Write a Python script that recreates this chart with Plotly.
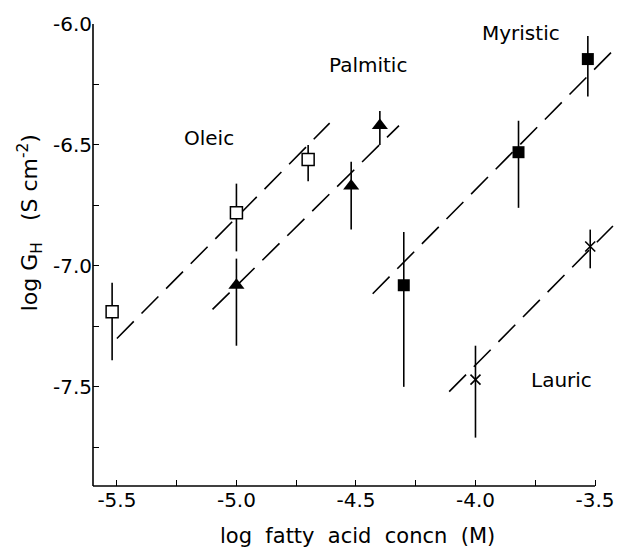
import numpy as np
import plotly.graph_objects as go

# ---------------- data ----------------
oleic_x = [-5.52, -5.00, -4.70]
oleic_y = [-7.19, -6.78, -6.56]
oleic_hi = [-7.07, -6.66, -6.50]
oleic_lo = [-7.39, -6.94, -6.65]
oleic_fit_x = [-5.50, -4.61]
oleic_fit_y = [-7.30, -6.41]

palm_x = [-5.00, -4.52, -4.40]
palm_y = [-7.08, -6.67, -6.42]
palm_hi = [-6.97, -6.57, -6.36]
palm_lo = [-7.33, -6.85, -6.50]
palm_fit_x = [-5.10, -4.32]
palm_fit_y = [-7.18, -6.42]

myr_x = [-4.30, -3.82, -3.53]
myr_y = [-7.08, -6.53, -6.145]
myr_hi = [-6.86, -6.40, -6.05]
myr_lo = [-7.50, -6.76, -6.30]
myr_fit_x = [-4.43, -3.41]
myr_fit_y = [-7.115, -6.095]

lau_x = [-4.00, -3.52]
lau_y = [-7.47, -6.92]
lau_hi = [-7.33, -6.85]
lau_lo = [-7.71, -7.01]
lau_fit_x = [-4.11, -3.425]
lau_fit_y = [-7.52, -6.835]

labels = ["Oleic", "Palmitic", "Myristic", "Lauric"]
label_x = [-5.115, -4.45, -3.81, -3.64]
label_y = [-6.47, -6.17, -6.037, -7.47]

x_tickvals = [-5.5, -5.0, -4.5, -4.0, -3.5]
x_ticktext = ["-5.5", "-5.0", "-4.5", "-4.0", "-3.5"]
x_minor = [-5.25, -4.75, -4.25, -3.75]
y_tickvals = [-6.0, -6.5, -7.0, -7.5]
y_ticktext = ["-6.0", "-6.5", "-7.0", "-7.5"]
y_minor = [-6.25, -6.75, -7.25, -7.75]

FONT = "DejaVu Sans"
INK = "black"

fig = go.Figure()

def add_series(xs, ys, hi, lo, symbol, size, fill, lw):
    ys_a = np.array(ys); hi_a = np.array(hi); lo_a = np.array(lo)
    fig.add_trace(go.Scatter(
        x=xs, y=ys, mode="markers",
        marker=dict(symbol=symbol, size=size, color=fill,
                    line=dict(color=INK, width=lw)),
        error_y=dict(type="data", symmetric=False, array=hi_a - ys_a, arrayminus=ys_a - lo_a,
                     width=0, thickness=1.6, color=INK),
        showlegend=False, cliponaxis=False))

def add_fit(xs, ys):
    fig.add_trace(go.Scatter(x=xs, y=ys, mode="lines",
                             line=dict(color=INK, width=1.6, dash="24px,11px"),
                             showlegend=False))

add_fit(oleic_fit_x, oleic_fit_y)
add_fit(palm_fit_x, palm_fit_y)
add_fit(myr_fit_x, myr_fit_y)
add_fit(lau_fit_x, lau_fit_y)

add_series(oleic_x, oleic_y, oleic_hi, oleic_lo, "square", 12, "white", 1.5)
add_series(palm_x, palm_y, palm_hi, palm_lo, "triangle-up", 14, INK, 0)
add_series(myr_x, myr_y, myr_hi, myr_lo, "square", 12, INK, 0)
add_series(lau_x, lau_y, lau_hi, lau_lo, "x-thin", 10, INK, 1.6)

for t, lx, ly in zip(labels, label_x, label_y):
    fig.add_annotation(x=lx, y=ly, text=t, showarrow=False,
                       font=dict(family=FONT, size=20, color=INK),
                       xanchor="center", yanchor="middle")

# axis lines as shapes (x axis line stops at -3.5)
fig.add_shape(type="line", xref="x", yref="paper", x0=-5.6, x1=x_tickvals[-1], y0=0, y1=0,
              line=dict(color=INK, width=1.6))
fig.add_shape(type="line", xref="paper", yref="paper", x0=0, x1=0, y0=0, y1=1,
              line=dict(color=INK, width=1.6))

fig.add_annotation(xref="paper", yref="paper", x=0.504, y=-0.108,
                   text="log  fatty  acid  concn  (M)", showarrow=False,
                   font=dict(family=FONT, size=21, color=INK),
                   xanchor="center", yanchor="middle")
fig.add_annotation(xref="paper", yref="paper", x=-0.12, y=0.569,
                   text="log G<sub>H</sub>   (S cm<sup>-2</sup>)", showarrow=False,
                   textangle=-90,
                   font=dict(family=FONT, size=22, color=INK),
                   xanchor="center", yanchor="middle")

fig.update_xaxes(range=[-5.6, -3.408], showline=False, showgrid=False, zeroline=False,
                 tickmode="array", tickvals=x_tickvals, ticktext=x_ticktext,
                 ticks="inside", ticklen=6, tickwidth=1.4, tickcolor=INK,
                 minor=dict(tickmode="array", tickvals=x_minor, ticks="inside", ticklen=6,
                            tickwidth=1.4, tickcolor=INK, showgrid=False),
                 tickfont=dict(family=FONT, size=20, color=INK))
fig.update_yaxes(range=[-7.91, -6.0], showline=False, showgrid=False, zeroline=False,
                 tickmode="array", tickvals=y_tickvals, ticktext=y_ticktext,
                 ticks="inside", ticklen=6, tickwidth=1.4, tickcolor=INK,
                 minor=dict(tickmode="array", tickvals=y_minor, ticks="inside", ticklen=6,
                            tickwidth=1.4, tickcolor=INK, showgrid=False),
                 tickfont=dict(family=FONT, size=20, color=INK))

fig.update_layout(width=617, height=551, margin=dict(l=93, r=0, t=24, b=65),
                  plot_bgcolor="white", paper_bgcolor="white")

fig.write_html("out.html")
